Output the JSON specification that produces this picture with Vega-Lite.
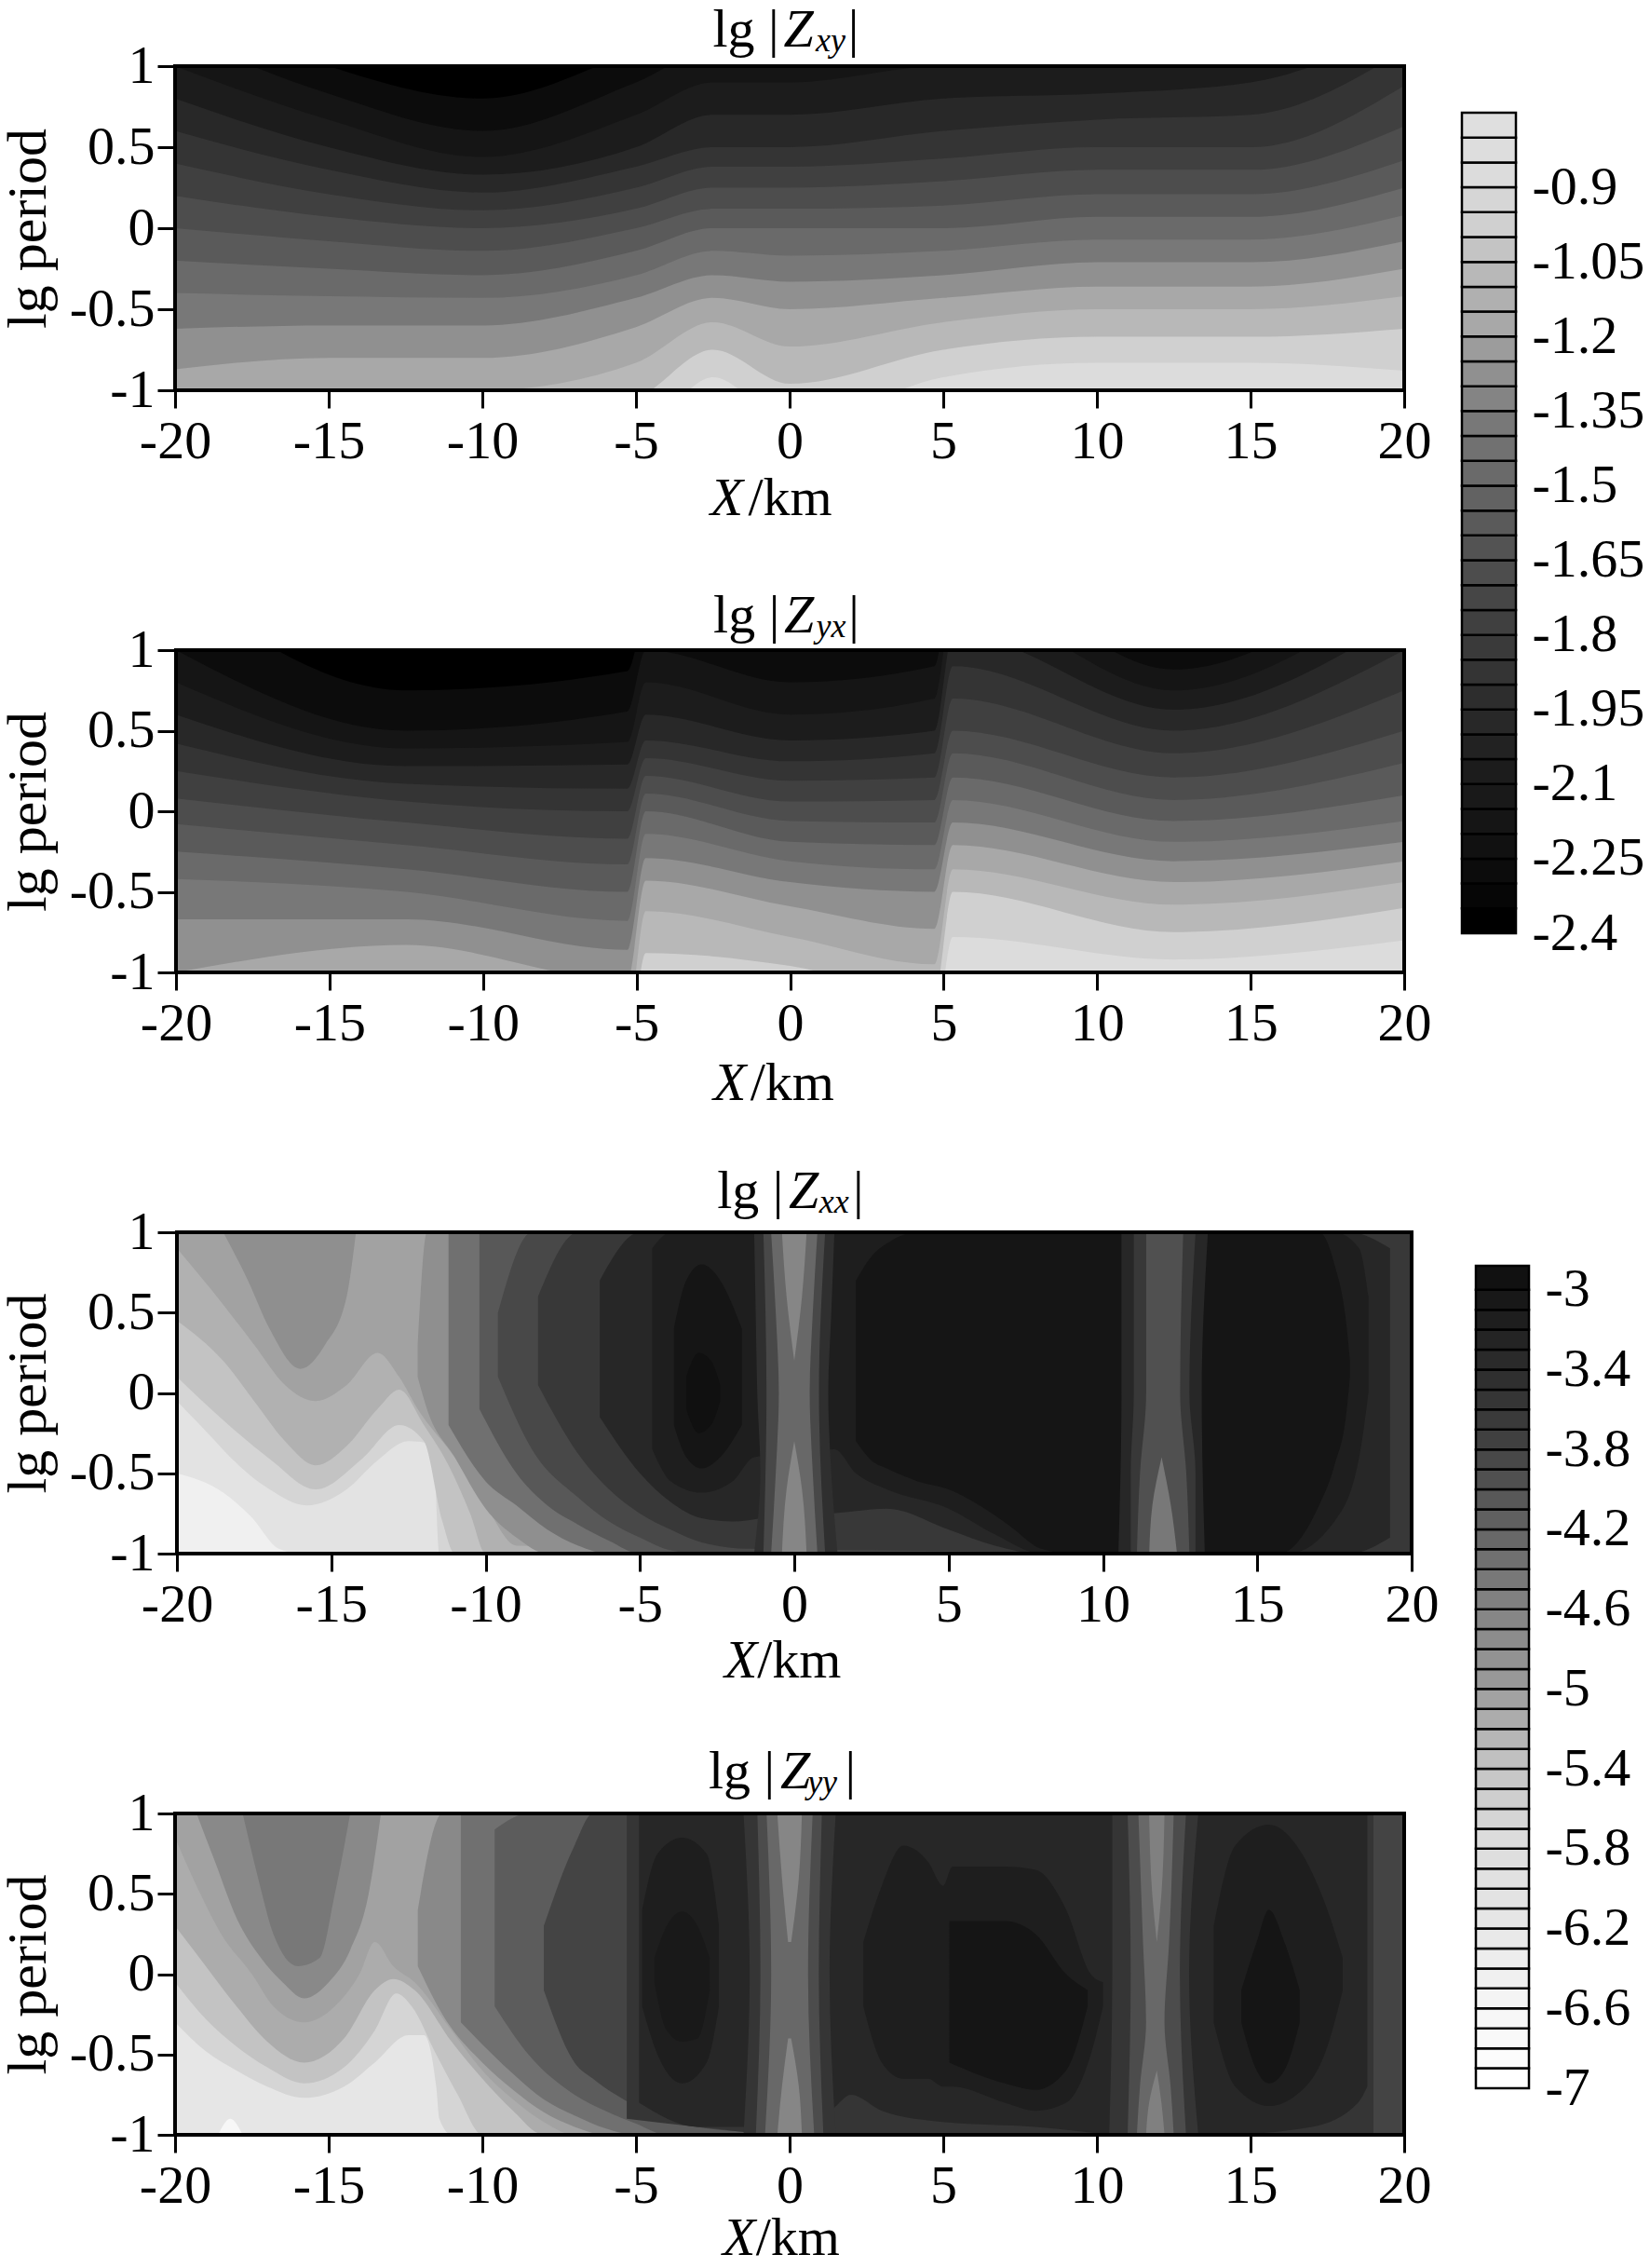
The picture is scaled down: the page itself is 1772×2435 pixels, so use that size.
{"$schema":"https://vega.github.io/schema/vega-lite/v6.json","background":"white","padding":{"left":0,"top":4,"right":0,"bottom":0},"bounds":"flush","columns":2,"spacing":{"row":279,"column":0},"resolve":{"scale":{"color":"independent"}},
"config":{"view":{"stroke":null},"axis":{"grid":false,"domain":false,"labelFont":"Liberation Serif","labelFontSize":58,"labelColor":"#000","tickColor":"#000","tickWidth":3,"tickSize":19,"labelOverlap":false,"labelFlush":false,"labelBound":false,"titleFont":"Liberation Serif","titleFontSize":60,"titleFontWeight":"normal","titleColor":"#000","titleBaseline":"alphabetic"},"axisX":{"labelPadding":7},"axisY":{"labelPadding":3}},
"concat":[
{"width":1330,"height":348,"encoding":{"x":{"field":"x","type":"quantitative","scale":{"domain":[-20,20],"range":[0,1320],"nice":false,"zero":false},"axis":{"title":null,"values":[-20,-15,-10,-5,0,5,10,15,20],"labelExpr":"''+datum.value"}},"y":{"field":"y","type":"quantitative","scale":{"domain":[-1,1],"nice":false,"zero":false},"axis":{"title":"lg period","titleX":-140,"values":[-1,-0.5,0,0.5,1],"labelExpr":"''+datum.value"}}},
"layer":[
{"data":{"values":[{"x":-20,"x2":20,"y":-1,"y2":1}]},"mark":{"type":"rect","fill":"#000"},"encoding":{"x2":{"field":"x2"},"y2":{"field":"y2"}}},
{"data":{"values":[
{"l":-2.3,"x":-20,"y":1.4},{"l":-2.3,"x":-15,"y":1},{"l":-2.3,"x":-10,"y":0.8},{"l":-2.3,"x":-5,"y":1.1},{"l":-2.3,"x":-2.5,"y":1.3},{"l":-2.3,"x":0,"y":1.3},{"l":-2.3,"x":5,"y":1.4},{"l":-2.3,"x":10,"y":1.4},{"l":-2.3,"x":15,"y":1.3},{"l":-2.3,"x":20,"y":1.8},
{"l":-2.2,"x":-20,"y":1.2},{"l":-2.2,"x":-15,"y":0.83},{"l":-2.2,"x":-10,"y":0.6},{"l":-2.2,"x":-5,"y":0.9},{"l":-2.2,"x":-2.5,"y":1.1},{"l":-2.2,"x":0,"y":1.1},{"l":-2.2,"x":5,"y":1.2},{"l":-2.2,"x":10,"y":1.2},{"l":-2.2,"x":15,"y":1.2},{"l":-2.2,"x":20,"y":1.6},
{"l":-2.1,"x":-20,"y":1},{"l":-2.1,"x":-15,"y":0.67},{"l":-2.1,"x":-10,"y":0.44},{"l":-2.1,"x":-5,"y":0.7},{"l":-2.1,"x":-2.5,"y":0.9},{"l":-2.1,"x":0,"y":0.9},{"l":-2.1,"x":5,"y":1},{"l":-2.1,"x":10,"y":1},{"l":-2.1,"x":15,"y":1.1},{"l":-2.1,"x":20,"y":1.4},
{"l":-2,"x":-20,"y":0.8},{"l":-2,"x":-15,"y":0.5},{"l":-2,"x":-10,"y":0.33},{"l":-2,"x":-5,"y":0.5},{"l":-2,"x":-2.5,"y":0.7},{"l":-2,"x":0,"y":0.7},{"l":-2,"x":5,"y":0.8},{"l":-2,"x":10,"y":0.83},{"l":-2,"x":15,"y":0.9},{"l":-2,"x":20,"y":1.25},
{"l":-1.9,"x":-20,"y":0.6},{"l":-1.9,"x":-15,"y":0.36},{"l":-1.9,"x":-10,"y":0.22},{"l":-1.9,"x":-5,"y":0.38},{"l":-1.9,"x":-2.5,"y":0.5},{"l":-1.9,"x":0,"y":0.5},{"l":-1.9,"x":5,"y":0.6},{"l":-1.9,"x":10,"y":0.67},{"l":-1.9,"x":15,"y":0.7},{"l":-1.9,"x":20,"y":1.1},
{"l":-1.8,"x":-20,"y":0.4},{"l":-1.8,"x":-15,"y":0.21},{"l":-1.8,"x":-10,"y":0.11},{"l":-1.8,"x":-5,"y":0.25},{"l":-1.8,"x":-2.5,"y":0.38},{"l":-1.8,"x":0,"y":0.38},{"l":-1.8,"x":5,"y":0.43},{"l":-1.8,"x":10,"y":0.5},{"l":-1.8,"x":15,"y":0.5},{"l":-1.8,"x":20,"y":0.88},
{"l":-1.7,"x":-20,"y":0.2},{"l":-1.7,"x":-15,"y":0.07},{"l":-1.7,"x":-10,"y":0},{"l":-1.7,"x":-5,"y":0.12},{"l":-1.7,"x":-2.5,"y":0.25},{"l":-1.7,"x":0,"y":0.25},{"l":-1.7,"x":5,"y":0.29},{"l":-1.7,"x":10,"y":0.36},{"l":-1.7,"x":15,"y":0.36},{"l":-1.7,"x":20,"y":0.63},
{"l":-1.6,"x":-20,"y":0},{"l":-1.6,"x":-15,"y":-0.08},{"l":-1.6,"x":-10,"y":-0.14},{"l":-1.6,"x":-5,"y":0},{"l":-1.6,"x":-2.5,"y":0.12},{"l":-1.6,"x":0,"y":0.12},{"l":-1.6,"x":5,"y":0.14},{"l":-1.6,"x":10,"y":0.21},{"l":-1.6,"x":15,"y":0.21},{"l":-1.6,"x":20,"y":0.42},
{"l":-1.5,"x":-20,"y":-0.2},{"l":-1.5,"x":-15,"y":-0.25},{"l":-1.5,"x":-10,"y":-0.29},{"l":-1.5,"x":-5,"y":-0.14},{"l":-1.5,"x":-2.5,"y":0},{"l":-1.5,"x":0,"y":0},{"l":-1.5,"x":5,"y":0},{"l":-1.5,"x":10,"y":0.07},{"l":-1.5,"x":15,"y":0.07},{"l":-1.5,"x":20,"y":0.25},
{"l":-1.4,"x":-20,"y":-0.4},{"l":-1.4,"x":-15,"y":-0.42},{"l":-1.4,"x":-10,"y":-0.43},{"l":-1.4,"x":-5,"y":-0.29},{"l":-1.4,"x":-2.5,"y":-0.14},{"l":-1.4,"x":0,"y":-0.17},{"l":-1.4,"x":5,"y":-0.14},{"l":-1.4,"x":10,"y":-0.07},{"l":-1.4,"x":15,"y":-0.07},{"l":-1.4,"x":20,"y":0.08},
{"l":-1.3,"x":-20,"y":-0.62},{"l":-1.3,"x":-15,"y":-0.6},{"l":-1.3,"x":-10,"y":-0.6},{"l":-1.3,"x":-5,"y":-0.43},{"l":-1.3,"x":-2.5,"y":-0.29},{"l":-1.3,"x":0,"y":-0.33},{"l":-1.3,"x":5,"y":-0.29},{"l":-1.3,"x":10,"y":-0.21},{"l":-1.3,"x":15,"y":-0.21},{"l":-1.3,"x":20,"y":-0.08},
{"l":-1.2,"x":-20,"y":-0.87},{"l":-1.2,"x":-15,"y":-0.8},{"l":-1.2,"x":-10,"y":-0.8},{"l":-1.2,"x":-5,"y":-0.61},{"l":-1.2,"x":-2.5,"y":-0.43},{"l":-1.2,"x":0,"y":-0.5},{"l":-1.2,"x":5,"y":-0.43},{"l":-1.2,"x":10,"y":-0.36},{"l":-1.2,"x":15,"y":-0.36},{"l":-1.2,"x":20,"y":-0.25},
{"l":-1.1,"x":-20,"y":-1.1},{"l":-1.1,"x":-15,"y":-1},{"l":-1.1,"x":-10,"y":-1},{"l":-1.1,"x":-5,"y":-0.83},{"l":-1.1,"x":-2.5,"y":-0.58},{"l":-1.1,"x":0,"y":-0.73},{"l":-1.1,"x":5,"y":-0.58},{"l":-1.1,"x":10,"y":-0.5},{"l":-1.1,"x":15,"y":-0.5},{"l":-1.1,"x":20,"y":-0.42},
{"l":-1,"x":-20,"y":-1.3},{"l":-1,"x":-15,"y":-1.2},{"l":-1,"x":-10,"y":-1.2},{"l":-1,"x":-5,"y":-1.05},{"l":-1,"x":-2.5,"y":-0.75},{"l":-1,"x":0,"y":-0.96},{"l":-1,"x":5,"y":-0.75},{"l":-1,"x":10,"y":-0.67},{"l":-1,"x":15,"y":-0.67},{"l":-1,"x":20,"y":-0.62},
{"l":-0.9,"x":-20,"y":-1.5},{"l":-0.9,"x":-15,"y":-1.4},{"l":-0.9,"x":-10,"y":-1.4},{"l":-0.9,"x":-5,"y":-1.3},{"l":-0.9,"x":-2.5,"y":-0.92},{"l":-0.9,"x":0,"y":-1.2},{"l":-0.9,"x":5,"y":-0.92},{"l":-0.9,"x":10,"y":-0.83},{"l":-0.9,"x":15,"y":-0.83},{"l":-0.9,"x":20,"y":-0.88}
]},"mark":{"type":"area","clip":true,"interpolate":"monotone"},"encoding":{"y2":{"datum":-1},"detail":{"field":"l"},"color":{"field":"l","type":"quantitative","legend":null,"scale":{"domain":[-2.4,-2.1,-1.8,-1.6,-1.5,-1.4,-1.3,-1.2,-1.1,-1,-0.9,-0.75],"range":["#000000","#1c1c1c","#404040","#5a5a5a","#6a6a6a","#787878","#909090","#a8a8a8","#b8b8b8","#d0d0d0","#dcdcdc","#e0e0e0"]}}}},
{"data":{"values":[{"x":-20,"x2":20,"y":-1,"y2":1}]},"mark":{"type":"rect","filled":false,"stroke":"#000","strokeWidth":4},"encoding":{"x2":{"field":"x2"},"y2":{"field":"y2"}}},
{"data":{"values":[{"s":"lg |","x":-2.5,"y":1.12},{"s":"|","x":1.9,"y":1.12},{"s":"/km","x":-1.35,"y":-1.77}]},"mark":{"type":"text","align":"left","baseline":"alphabetic","font":"Liberation Serif","fontSize":58,"color":"#000"},"encoding":{"text":{"field":"s"}}},
{"data":{"values":[{"s":"Z","x":-0.2,"y":1.12},{"s":"X","x":-2.58,"y":-1.77}]},"mark":{"type":"text","align":"left","baseline":"alphabetic","font":"Liberation Serif","fontStyle":"italic","fontSize":58,"color":"#000"},"encoding":{"text":{"field":"s"}}},
{"data":{"values":[{"s":"xy","x":0.85,"y":1.09}]},"mark":{"type":"text","align":"left","baseline":"alphabetic","font":"Liberation Serif","fontStyle":"italic","fontSize":36,"color":"#000"},"encoding":{"text":{"field":"s"}}}
]},
{"width":110,"height":348,"data":{"values":[{"v":-2.4,"w":-2.35},{"v":-2.35,"w":-2.3},{"v":-2.3,"w":-2.25},{"v":-2.25,"w":-2.2},{"v":-2.2,"w":-2.15},{"v":-2.15,"w":-2.1},{"v":-2.1,"w":-2.05},{"v":-2.05,"w":-2},{"v":-2,"w":-1.95},{"v":-1.95,"w":-1.9},{"v":-1.9,"w":-1.85},{"v":-1.85,"w":-1.8},{"v":-1.8,"w":-1.75},{"v":-1.75,"w":-1.7},{"v":-1.7,"w":-1.65},{"v":-1.65,"w":-1.6},{"v":-1.6,"w":-1.55},{"v":-1.55,"w":-1.5},{"v":-1.5,"w":-1.45},{"v":-1.45,"w":-1.4},{"v":-1.4,"w":-1.35},{"v":-1.35,"w":-1.3},{"v":-1.3,"w":-1.25},{"v":-1.25,"w":-1.2},{"v":-1.2,"w":-1.15},{"v":-1.15,"w":-1.1},{"v":-1.1,"w":-1.05},{"v":-1.05,"w":-1},{"v":-1,"w":-0.95},{"v":-0.95,"w":-0.9},{"v":-0.9,"w":-0.85},{"v":-0.85,"w":-0.8},{"v":-0.8,"w":-0.75}]},"mark":{"type":"rect","stroke":"#000","strokeWidth":2.5},"encoding":{"x":{"datum":0,"type":"quantitative","scale":{"domain":[0,1],"range":[52,110]},"axis":null},"x2":{"datum":1},"y":{"field":"v","type":"quantitative","scale":{"domain":[-2.4,-0.75],"range":[931,50],"nice":false,"zero":false},"axis":{"orient":"right","title":null,"ticks":false,"labelPadding":17,"values":[-0.9,-1.05,-1.2,-1.35,-1.5,-1.65,-1.8,-1.95,-2.1,-2.25,-2.4],"labelExpr":"''+datum.value"}},"y2":{"field":"w"},"color":{"field":"v","type":"quantitative","legend":null,"scale":{"domain":[-2.4,-2.1,-1.8,-1.6,-1.5,-1.4,-1.3,-1.2,-1.1,-1,-0.9,-0.75],"range":["#000000","#1c1c1c","#404040","#5a5a5a","#6a6a6a","#787878","#909090","#a8a8a8","#b8b8b8","#d0d0d0","#dcdcdc","#e0e0e0"]}}}},
{"width":1330,"height":346,"encoding":{"x":{"field":"x","type":"quantitative","scale":{"domain":[-20,20],"range":[1,1320],"nice":false,"zero":false},"axis":{"title":null,"values":[-20,-15,-10,-5,0,5,10,15,20],"labelExpr":"''+datum.value"}},"y":{"field":"y","type":"quantitative","scale":{"domain":[-1,1],"nice":false,"zero":false},"axis":{"title":"lg period","titleX":-140,"values":[-1,-0.5,0,0.5,1],"labelExpr":"''+datum.value"}}},
"layer":[
{"data":{"values":[{"x":-20,"x2":20,"y":-1,"y2":1}]},"mark":{"type":"rect","fill":"#000"},"encoding":{"x2":{"field":"x2"},"y2":{"field":"y2"}}},
{"data":{"values":[
{"l":-2.3,"x":-20,"y":1.4},{"l":-2.3,"x":-12.5,"y":0.75},{"l":-2.3,"x":-5.3,"y":0.87},{"l":-2.3,"x":-4.7,"y":1.2},{"l":-2.3,"x":0,"y":1},{"l":-2.3,"x":4.7,"y":1.1},{"l":-2.3,"x":5.3,"y":1.7},{"l":-2.3,"x":12.5,"y":1},{"l":-2.3,"x":20,"y":1.8},
{"l":-2.2,"x":-20,"y":1},{"l":-2.2,"x":-12.5,"y":0.5},{"l":-2.2,"x":-5.3,"y":0.62},{"l":-2.2,"x":-4.7,"y":1},{"l":-2.2,"x":0,"y":0.8},{"l":-2.2,"x":4.7,"y":0.9},{"l":-2.2,"x":5.3,"y":1.5},{"l":-2.2,"x":12.5,"y":0.88},{"l":-2.2,"x":20,"y":1.6},
{"l":-2.1,"x":-20,"y":0.8},{"l":-2.1,"x":-12.5,"y":0.39},{"l":-2.1,"x":-5.3,"y":0.43},{"l":-2.1,"x":-4.7,"y":0.8},{"l":-2.1,"x":0,"y":0.6},{"l":-2.1,"x":4.7,"y":0.7},{"l":-2.1,"x":5.3,"y":1.3},{"l":-2.1,"x":12.5,"y":0.75},{"l":-2.1,"x":20,"y":1.4},
{"l":-2,"x":-20,"y":0.6},{"l":-2,"x":-12.5,"y":0.28},{"l":-2,"x":-5.3,"y":0.29},{"l":-2,"x":-4.7,"y":0.6},{"l":-2,"x":0,"y":0.44},{"l":-2,"x":4.7,"y":0.5},{"l":-2,"x":5.3,"y":1.1},{"l":-2,"x":12.5,"y":0.63},{"l":-2,"x":20,"y":1.2},
{"l":-1.9,"x":-20,"y":0.42},{"l":-1.9,"x":-12.5,"y":0.17},{"l":-1.9,"x":-5.3,"y":0.14},{"l":-1.9,"x":-4.7,"y":0.44},{"l":-1.9,"x":0,"y":0.31},{"l":-1.9,"x":4.7,"y":0.36},{"l":-1.9,"x":5.3,"y":0.9},{"l":-1.9,"x":12.5,"y":0.5},{"l":-1.9,"x":20,"y":1},
{"l":-1.8,"x":-20,"y":0.25},{"l":-1.8,"x":-12.5,"y":0.06},{"l":-1.8,"x":-5.3,"y":0},{"l":-1.8,"x":-4.7,"y":0.33},{"l":-1.8,"x":0,"y":0.19},{"l":-1.8,"x":4.7,"y":0.21},{"l":-1.8,"x":5.3,"y":0.7},{"l":-1.8,"x":12.5,"y":0.36},{"l":-1.8,"x":20,"y":0.75},
{"l":-1.7,"x":-20,"y":0.08},{"l":-1.7,"x":-12.5,"y":-0.07},{"l":-1.7,"x":-5.3,"y":-0.17},{"l":-1.7,"x":-4.7,"y":0.22},{"l":-1.7,"x":0,"y":0.06},{"l":-1.7,"x":4.7,"y":0.07},{"l":-1.7,"x":5.3,"y":0.5},{"l":-1.7,"x":12.5,"y":0.21},{"l":-1.7,"x":20,"y":0.5},
{"l":-1.6,"x":-20,"y":-0.08},{"l":-1.6,"x":-12.5,"y":-0.21},{"l":-1.6,"x":-5.3,"y":-0.33},{"l":-1.6,"x":-4.7,"y":0.11},{"l":-1.6,"x":0,"y":-0.06},{"l":-1.6,"x":4.7,"y":-0.07},{"l":-1.6,"x":5.3,"y":0.36},{"l":-1.6,"x":12.5,"y":0.07},{"l":-1.6,"x":20,"y":0.3},
{"l":-1.5,"x":-20,"y":-0.25},{"l":-1.5,"x":-12.5,"y":-0.36},{"l":-1.5,"x":-5.3,"y":-0.5},{"l":-1.5,"x":-4.7,"y":0},{"l":-1.5,"x":0,"y":-0.19},{"l":-1.5,"x":4.7,"y":-0.21},{"l":-1.5,"x":5.3,"y":0.21},{"l":-1.5,"x":12.5,"y":-0.06},{"l":-1.5,"x":20,"y":0.1},
{"l":-1.4,"x":-20,"y":-0.42},{"l":-1.4,"x":-12.5,"y":-0.5},{"l":-1.4,"x":-5.3,"y":-0.68},{"l":-1.4,"x":-4.7,"y":-0.14},{"l":-1.4,"x":0,"y":-0.31},{"l":-1.4,"x":4.7,"y":-0.36},{"l":-1.4,"x":5.3,"y":0.07},{"l":-1.4,"x":12.5,"y":-0.19},{"l":-1.4,"x":20,"y":-0.06},
{"l":-1.3,"x":-20,"y":-0.67},{"l":-1.3,"x":-12.5,"y":-0.67},{"l":-1.3,"x":-5.3,"y":-0.86},{"l":-1.3,"x":-4.7,"y":-0.29},{"l":-1.3,"x":0,"y":-0.44},{"l":-1.3,"x":4.7,"y":-0.5},{"l":-1.3,"x":5.3,"y":-0.07},{"l":-1.3,"x":12.5,"y":-0.31},{"l":-1.3,"x":20,"y":-0.19},
{"l":-1.2,"x":-20,"y":-1},{"l":-1.2,"x":-12.5,"y":-0.83},{"l":-1.2,"x":-5.3,"y":-1.05},{"l":-1.2,"x":-4.7,"y":-0.43},{"l":-1.2,"x":0,"y":-0.59},{"l":-1.2,"x":4.7,"y":-0.73},{"l":-1.2,"x":5.3,"y":-0.21},{"l":-1.2,"x":12.5,"y":-0.44},{"l":-1.2,"x":20,"y":-0.31},
{"l":-1.1,"x":-20,"y":-1.2},{"l":-1.1,"x":-12.5,"y":-1},{"l":-1.1,"x":-5.3,"y":-1.3},{"l":-1.1,"x":-4.7,"y":-0.62},{"l":-1.1,"x":0,"y":-0.78},{"l":-1.1,"x":4.7,"y":-0.95},{"l":-1.1,"x":5.3,"y":-0.36},{"l":-1.1,"x":12.5,"y":-0.58},{"l":-1.1,"x":20,"y":-0.44},
{"l":-1,"x":-20,"y":-1.4},{"l":-1,"x":-12.5,"y":-1.2},{"l":-1,"x":-5.3,"y":-1.5},{"l":-1,"x":-4.7,"y":-0.88},{"l":-1,"x":0,"y":-0.96},{"l":-1,"x":4.7,"y":-1.15},{"l":-1,"x":5.3,"y":-0.5},{"l":-1,"x":12.5,"y":-0.75},{"l":-1,"x":20,"y":-0.6},
{"l":-0.9,"x":-20,"y":-1.6},{"l":-0.9,"x":-12.5,"y":-1.4},{"l":-0.9,"x":-5.3,"y":-1.7},{"l":-0.9,"x":-4.7,"y":-1.12},{"l":-0.9,"x":0,"y":-1.2},{"l":-0.9,"x":4.7,"y":-1.35},{"l":-0.9,"x":5.3,"y":-0.78},{"l":-0.9,"x":12.5,"y":-0.92},{"l":-0.9,"x":20,"y":-0.8}
]},"mark":{"type":"area","clip":true,"interpolate":"monotone"},"encoding":{"y2":{"datum":-1},"detail":{"field":"l"},"color":{"field":"l","type":"quantitative","legend":null,"scale":{"domain":[-2.4,-2.1,-1.8,-1.6,-1.5,-1.4,-1.3,-1.2,-1.1,-1,-0.9,-0.75],"range":["#000000","#1c1c1c","#404040","#5a5a5a","#6a6a6a","#787878","#909090","#a8a8a8","#b8b8b8","#d0d0d0","#dcdcdc","#e0e0e0"]}}}},
{"data":{"values":[{"x":-20,"x2":20,"y":-1,"y2":1}]},"mark":{"type":"rect","filled":false,"stroke":"#000","strokeWidth":4},"encoding":{"x2":{"field":"x2"},"y2":{"field":"y2"}}},
{"data":{"values":[{"s":"lg |","x":-2.5,"y":1.11},{"s":"|","x":1.9,"y":1.11},{"s":"/km","x":-1.3,"y":-1.79}]},"mark":{"type":"text","align":"left","baseline":"alphabetic","font":"Liberation Serif","fontSize":58,"color":"#000"},"encoding":{"text":{"field":"s"}}},
{"data":{"values":[{"s":"Z","x":-0.2,"y":1.11},{"s":"X","x":-2.5,"y":-1.79}]},"mark":{"type":"text","align":"left","baseline":"alphabetic","font":"Liberation Serif","fontStyle":"italic","fontSize":58,"color":"#000"},"encoding":{"text":{"field":"s"}}},
{"data":{"values":[{"s":"yx","x":0.85,"y":1.08}]},"mark":{"type":"text","align":"left","baseline":"alphabetic","font":"Liberation Serif","fontStyle":"italic","fontSize":36,"color":"#000"},"encoding":{"text":{"field":"s"}}}
]},
{"width":10,"height":346,"data":{"values":[]},"mark":{"type":"rect"},"encoding":{}},
{"width":1330,"height":345,"encoding":{"x":{"field":"x","type":"quantitative","scale":{"domain":[-20,20],"range":[2,1328],"nice":false,"zero":false},"axis":{"title":null,"values":[-20,-15,-10,-5,0,5,10,15,20],"labelExpr":"''+datum.value"}},"y":{"field":"y","type":"quantitative","scale":{"domain":[-1,1],"nice":false,"zero":false},"axis":{"title":"lg period","titleX":-140,"values":[-1,-0.5,0,0.5,1],"labelExpr":"''+datum.value"}}},
"layer":[
{"data":{"values":[{"x":-20,"x2":20,"y":-1,"y2":1,"v":-6.5}]},"mark":{"type":"rect"},"encoding":{"x2":{"field":"x2"},"y2":{"field":"y2"},"color":{"field":"v","type":"quantitative","legend":null,"scale":{"domain":[-7,-6.6,-6.2,-5.8,-5.4,-5,-4.6,-4.2,-3.8,-3.4,-3,-2.88],"range":["#ffffff","#f4f4f4","#e6e6e6","#dcdcdc","#c0c0c0","#989898","#808080","#606060","#404040","#2a2a2a","#111111","#0c0c0c"]}}}},
{"data":{"values":[
{"g":"B","v":-6.1,"x":-20,"y":-0.5,"t":1},{"g":"B","v":-6.1,"x":-18.5,"y":-0.62,"t":1},{"g":"B","v":-6.1,"x":-17.6,"y":-0.77,"t":1},{"g":"B","v":-6.1,"x":-16.7,"y":-0.97,"t":1},{"g":"B","v":-6.1,"x":-16,"y":-1,"t":1},{"g":"B","v":-6.1,"x":20,"y":-1,"t":1},
{"g":"C","v":-5.7,"x":-20,"y":-0.05,"t":1},{"g":"C","v":-5.7,"x":-19,"y":-0.25,"t":1},{"g":"C","v":-5.7,"x":-18,"y":-0.45,"t":1},{"g":"C","v":-5.7,"x":-17,"y":-0.6,"t":1},{"g":"C","v":-5.7,"x":-15.8,"y":-0.7,"t":1},{"g":"C","v":-5.7,"x":-14.5,"y":-0.6,"t":1},{"g":"C","v":-5.7,"x":-13.5,"y":-0.42,"t":1},{"g":"C","v":-5.7,"x":-12.5,"y":-0.3,"t":1},{"g":"C","v":-5.7,"x":-11.7,"y":-0.32,"t":1},{"g":"C","v":-5.7,"x":-11.5,"y":-1,"t":1},{"g":"C","v":-5.7,"x":20,"y":-1,"t":1},
{"g":"D","v":-5.45,"x":-20,"y":0.1,"t":1},{"g":"D","v":-5.45,"x":-18.5,"y":-0.17,"t":1},{"g":"D","v":-5.45,"x":-17,"y":-0.41,"t":1},{"g":"D","v":-5.45,"x":-15.5,"y":-0.6,"t":1},{"g":"D","v":-5.45,"x":-14,"y":-0.41,"t":1},{"g":"D","v":-5.45,"x":-12.8,"y":-0.2,"t":1},{"g":"D","v":-5.45,"x":-12,"y":-0.3,"t":1},{"g":"D","v":-5.45,"x":-11.4,"y":-0.8,"t":1},{"g":"D","v":-5.45,"x":-11,"y":-1,"t":1},{"g":"D","v":-5.45,"x":20,"y":-1,"t":1},
{"g":"E","v":-5.25,"x":-20,"y":0.45,"t":1},{"g":"E","v":-5.25,"x":-18.5,"y":0.2,"t":1},{"g":"E","v":-5.25,"x":-17.5,"y":-0.05,"t":1},{"g":"E","v":-5.25,"x":-16.5,"y":-0.3,"t":1},{"g":"E","v":-5.25,"x":-15.5,"y":-0.45,"t":1},{"g":"E","v":-5.25,"x":-14.5,"y":-0.33,"t":1},{"g":"E","v":-5.25,"x":-13.5,"y":-0.1,"t":1},{"g":"E","v":-5.25,"x":-12.8,"y":0.02,"t":1},{"g":"E","v":-5.25,"x":-12,"y":-0.2,"t":1},{"g":"E","v":-5.25,"x":-11.2,"y":-0.45,"t":1},{"g":"E","v":-5.25,"x":-10.5,"y":-0.75,"t":1},{"g":"E","v":-5.25,"x":-10,"y":-1,"t":1},{"g":"E","v":-5.25,"x":20,"y":-1,"t":1},
{"g":"F","v":-5.1,"x":-20,"y":0.9,"t":1},{"g":"F","v":-5.1,"x":-18.5,"y":0.55,"t":1},{"g":"F","v":-5.1,"x":-17.5,"y":0.3,"t":1},{"g":"F","v":-5.1,"x":-16.5,"y":0.05,"t":1},{"g":"F","v":-5.1,"x":-15.5,"y":-0.05,"t":1},{"g":"F","v":-5.1,"x":-14.5,"y":0.05,"t":1},{"g":"F","v":-5.1,"x":-13.5,"y":0.25,"t":1},{"g":"F","v":-5.1,"x":-12.8,"y":0.1,"t":1},{"g":"F","v":-5.1,"x":-12.2,"y":-0.1,"t":1},{"g":"F","v":-5.1,"x":-11,"y":-0.4,"t":1},{"g":"F","v":-5.1,"x":-10,"y":-0.7,"t":1},{"g":"F","v":-5.1,"x":-9,"y":-0.95,"t":1},{"g":"F","v":-5.1,"x":20,"y":-1,"t":1},
{"g":"G","v":-4.85,"x":-18.5,"y":1,"t":1},{"g":"G","v":-4.85,"x":-17.7,"y":0.7,"t":1},{"g":"G","v":-4.85,"x":-17,"y":0.4,"t":1},{"g":"G","v":-4.85,"x":-16,"y":0.15,"t":1},{"g":"G","v":-4.85,"x":-15.2,"y":0.3,"t":1},{"g":"G","v":-4.85,"x":-14.5,"y":0.6,"t":1},{"g":"G","v":-4.85,"x":-14.2,"y":1,"t":1},
{"g":"G2","v":-4.85,"x":-12.2,"y":0.1,"t":0.3},{"g":"G2","v":-4.85,"x":-11.9,"y":-0.1,"t":1},{"g":"G2","v":-4.85,"x":-11,"y":-0.4,"t":1},{"g":"G2","v":-4.85,"x":-10,"y":-0.72,"t":1},{"g":"G2","v":-4.85,"x":-9,"y":-0.9,"t":1},{"g":"G2","v":-4.85,"x":-8,"y":-1,"t":1},{"g":"G2","v":-4.85,"x":20,"y":-1,"t":1},
{"g":"H","v":-4.4,"x":-11.2,"y":-0.2,"t":1},{"g":"H","v":-4.4,"x":-10,"y":-0.55,"t":1},{"g":"H","v":-4.4,"x":-9,"y":-0.7,"t":1},{"g":"H","v":-4.4,"x":-8,"y":-0.85,"t":1},{"g":"H","v":-4.4,"x":-7,"y":-0.95,"t":1},{"g":"H","v":-4.4,"x":-6,"y":-1,"t":1},{"g":"H","v":-4.4,"x":20,"y":-1,"t":1},
{"g":"I","v":-4.1,"x":-10.2,"y":-0.1,"t":1},{"g":"I","v":-4.1,"x":-9,"y":-0.5,"t":1},{"g":"I","v":-4.1,"x":-8,"y":-0.7,"t":1},{"g":"I","v":-4.1,"x":-7,"y":-0.82,"t":1},{"g":"I","v":-4.1,"x":-6,"y":-0.92,"t":1},{"g":"I","v":-4.1,"x":-5,"y":-1,"t":1},{"g":"I","v":-4.1,"x":20,"y":-1,"t":1},
{"g":"J","v":-3.9,"x":-9.6,"y":0.1,"t":0.5},{"g":"J","v":-3.9,"x":-8.5,"y":-0.35,"t":1},{"g":"J","v":-3.9,"x":-7,"y":-0.65,"t":1},{"g":"J","v":-3.9,"x":-6,"y":-0.8,"t":1},{"g":"J","v":-3.9,"x":-5,"y":-0.9,"t":1},{"g":"J","v":-3.9,"x":-4,"y":-0.98,"t":1},{"g":"J","v":-3.9,"x":-3,"y":-1,"t":1},{"g":"J","v":-3.9,"x":20,"y":-1,"t":1},
{"g":"K","v":-3.65,"x":-8.3,"y":0.05,"t":0.6},{"g":"K","v":-3.65,"x":-7,"y":-0.38,"t":1},{"g":"K","v":-3.65,"x":-6,"y":-0.6,"t":1},{"g":"K","v":-3.65,"x":-5,"y":-0.75,"t":1},{"g":"K","v":-3.65,"x":-4,"y":-0.85,"t":1},{"g":"K","v":-3.65,"x":-3,"y":-0.93,"t":1},{"g":"K","v":-3.65,"x":-1.5,"y":-0.97,"t":1},{"g":"K","v":-3.65,"x":20,"y":-1,"t":1},
{"g":"L","v":-3.35,"x":-6.3,"y":-0.15,"t":0.7},{"g":"L","v":-3.35,"x":-5,"y":-0.5,"t":1},{"g":"L","v":-3.35,"x":-4,"y":-0.68,"t":1},{"g":"L","v":-3.35,"x":-3,"y":-0.78,"t":1},{"g":"L","v":-3.35,"x":-2,"y":-0.8,"t":1},{"g":"L","v":-3.35,"x":0,"y":-0.75,"t":1},{"g":"L","v":-3.35,"x":1,"y":-0.75,"t":1},{"g":"L","v":-3.35,"x":3,"y":-0.72,"t":1},{"g":"L","v":-3.35,"x":5,"y":-0.85,"t":1},{"g":"L","v":-3.35,"x":6.5,"y":-0.95,"t":1},{"g":"L","v":-3.35,"x":8,"y":-1,"t":1},{"g":"L","v":-3.35,"x":18,"y":-1,"t":1},{"g":"L","v":-3.35,"x":19.3,"y":-0.9,"t":0.9},
{"g":"M","v":-3.2,"x":-4.6,"y":-0.35,"t":0.9},{"g":"M","v":-3.2,"x":-4,"y":-0.55,"t":1},{"g":"M","v":-3.2,"x":-3,"y":-0.62,"t":1},{"g":"M","v":-3.2,"x":-2,"y":-0.55,"t":1},{"g":"M","v":-3.2,"x":-1.3,"y":-0.4,"t":1},{"g":"M","v":-3.2,"x":1.3,"y":-0.35,"t":1},{"g":"M","v":-3.2,"x":2,"y":-0.5,"t":1},{"g":"M","v":-3.2,"x":3,"y":-0.6,"t":1},{"g":"M","v":-3.2,"x":5,"y":-0.72,"t":1},{"g":"M","v":-3.2,"x":6.5,"y":-0.88,"t":1},{"g":"M","v":-3.2,"x":8,"y":-1,"t":1},{"g":"M","v":-3.2,"x":16,"y":-1,"t":1},{"g":"M","v":-3.2,"x":17.5,"y":-0.8,"t":1},{"g":"M","v":-3.2,"x":18.3,"y":-0.4,"t":0.9},{"g":"M","v":-3.2,"x":18.6,"y":0,"t":0.6},
{"g":"N","v":-3.05,"x":2,"y":-0.3,"t":0.7},{"g":"N","v":-3.05,"x":2.5,"y":-0.42,"t":0.85},{"g":"N","v":-3.05,"x":3,"y":-0.47,"t":0.93},{"g":"N","v":-3.05,"x":4,"y":-0.55,"t":1},{"g":"N","v":-3.05,"x":5,"y":-0.6,"t":1},{"g":"N","v":-3.05,"x":6,"y":-0.7,"t":1},{"g":"N","v":-3.05,"x":7,"y":-0.83,"t":1},{"g":"N","v":-3.05,"x":8,"y":-0.97,"t":1},{"g":"N","v":-3.05,"x":9,"y":-1,"t":1},{"g":"N","v":-3.05,"x":15.7,"y":-1,"t":1},{"g":"N","v":-3.05,"x":17,"y":-0.7,"t":1},{"g":"N","v":-3.05,"x":17.5,"y":-0.45,"t":0.8},{"g":"N","v":-3.05,"x":17.9,"y":-0.1,"t":0.4},{"g":"N","v":-3.05,"x":18,"y":0.1,"t":0.2},
{"g":"N2","v":-3.05,"x":-3.9,"y":-0.2,"t":0.4},{"g":"N2","v":-3.05,"x":-3.5,"y":-0.4,"t":0.7},{"g":"N2","v":-3.05,"x":-3,"y":-0.47,"t":0.8},{"g":"N2","v":-3.05,"x":-2.4,"y":-0.4,"t":0.7},{"g":"N2","v":-3.05,"x":-1.7,"y":-0.2,"t":0.4},
{"g":"O","v":-2.98,"x":-3.5,"y":-0.1,"t":0.1},{"g":"O","v":-2.98,"x":-3.1,"y":-0.25,"t":0.25},{"g":"O","v":-2.98,"x":-2.7,"y":-0.2,"t":0.2},{"g":"O","v":-2.98,"x":-2.4,"y":-0.05,"t":0.05}
]},"mark":{"type":"area","clip":true,"interpolate":"monotone"},"encoding":{"y2":{"field":"t"},"detail":{"field":"g"},"color":{"field":"v","type":"quantitative","legend":null,"scale":{"domain":[-7,-6.6,-6.2,-5.8,-5.4,-5,-4.6,-4.2,-3.8,-3.4,-3,-2.88],"range":["#ffffff","#f4f4f4","#e6e6e6","#dcdcdc","#c0c0c0","#989898","#808080","#606060","#404040","#2a2a2a","#111111","#0c0c0c"]}}}},
{"data":{"values":[
{"g":"a1","v":-3.5,"y":-1,"a":-1.3,"b":1.4},{"g":"a1","v":-3.5,"y":-0.5,"a":-1.1,"b":1.2},{"g":"a1","v":-3.5,"y":0,"a":-1.2,"b":1.1},{"g":"a1","v":-3.5,"y":0.5,"a":-1.25,"b":1.2},{"g":"a1","v":-3.5,"y":1,"a":-1.3,"b":1.3},
{"g":"a2","v":-3.9,"y":-1,"a":-1,"b":1},{"g":"a2","v":-3.9,"y":0,"a":-0.9,"b":0.8},{"g":"a2","v":-3.9,"y":1,"a":-1,"b":1},
{"g":"a3","v":-4.3,"y":-1,"a":-0.75,"b":0.75},{"g":"a3","v":-4.3,"y":-0.5,"a":-0.6,"b":0.6},{"g":"a3","v":-4.3,"y":0,"a":-0.5,"b":0.5},{"g":"a3","v":-4.3,"y":0.5,"a":-0.6,"b":0.6},{"g":"a3","v":-4.3,"y":1,"a":-0.75,"b":0.75},
{"g":"a4","v":-4.7,"y":0.2,"a":0,"b":0},{"g":"a4","v":-4.7,"y":0.6,"a":-0.25,"b":0.25},{"g":"a4","v":-4.7,"y":1,"a":-0.4,"b":0.4},
{"g":"a5","v":-4.7,"y":-1,"a":-0.4,"b":0.4},{"g":"a5","v":-4.7,"y":-0.6,"a":-0.25,"b":0.25},{"g":"a5","v":-4.7,"y":-0.3,"a":0,"b":0},
{"g":"c1","v":-3.35,"y":-1,"a":10.5,"b":13.3},{"g":"c1","v":-3.35,"y":0,"a":10.6,"b":13.2},{"g":"c1","v":-3.35,"y":1,"a":10.6,"b":13.4},
{"g":"c2","v":-3.65,"y":-1,"a":10.9,"b":13},{"g":"c2","v":-3.65,"y":-0.5,"a":10.9,"b":13},{"g":"c2","v":-3.65,"y":0,"a":11,"b":12.8},{"g":"c2","v":-3.65,"y":1,"a":11,"b":13},
{"g":"c3","v":-4,"y":-1,"a":11.1,"b":12.8},{"g":"c3","v":-4,"y":-0.5,"a":11.2,"b":12.7},{"g":"c3","v":-4,"y":0,"a":11.4,"b":12.5},{"g":"c3","v":-4,"y":1,"a":11.4,"b":12.6},
{"g":"c4","v":-4.5,"y":-1,"a":11.5,"b":12.4},{"g":"c4","v":-4.5,"y":-0.7,"a":11.6,"b":12.2},{"g":"c4","v":-4.5,"y":-0.4,"a":11.9,"b":11.9}
]},"mark":{"type":"area","orient":"horizontal","clip":true,"interpolate":"monotone"},"encoding":{"x":{"field":"a","type":"quantitative","axis":{"title":null,"values":[-20,-15,-10,-5,0,5,10,15,20],"labelExpr":"''+datum.value"}},"x2":{"field":"b"},"detail":{"field":"g"},"color":{"field":"v","type":"quantitative","legend":null,"scale":{"domain":[-7,-6.6,-6.2,-5.8,-5.4,-5,-4.6,-4.2,-3.8,-3.4,-3,-2.88],"range":["#ffffff","#f4f4f4","#e6e6e6","#dcdcdc","#c0c0c0","#989898","#808080","#606060","#404040","#2a2a2a","#111111","#0c0c0c"]}}}},
{"data":{"values":[{"x":-20,"x2":20,"y":-1,"y2":1}]},"mark":{"type":"rect","filled":false,"stroke":"#000","strokeWidth":4},"encoding":{"x2":{"field":"x2"},"y2":{"field":"y2"}}},
{"data":{"values":[{"s":"lg |","x":-2.5,"y":1.15},{"s":"|","x":1.9,"y":1.15},{"s":"/km","x":-1.2,"y":-1.77}]},"mark":{"type":"text","align":"left","baseline":"alphabetic","font":"Liberation Serif","fontSize":58,"color":"#000"},"encoding":{"text":{"field":"s"}}},
{"data":{"values":[{"s":"Z","x":-0.18,"y":1.15},{"s":"X","x":-2.26,"y":-1.77}]},"mark":{"type":"text","align":"left","baseline":"alphabetic","font":"Liberation Serif","fontStyle":"italic","fontSize":58,"color":"#000"},"encoding":{"text":{"field":"s"}}},
{"data":{"values":[{"s":"xx","x":0.81,"y":1.12}]},"mark":{"type":"text","align":"left","baseline":"alphabetic","font":"Liberation Serif","fontStyle":"italic","fontSize":36,"color":"#000"},"encoding":{"text":{"field":"s"}}}
]},
{"width":124,"height":345,"data":{"values":[{"v":-7,"w":-6.9},{"v":-6.9,"w":-6.8},{"v":-6.8,"w":-6.7},{"v":-6.7,"w":-6.6},{"v":-6.6,"w":-6.5},{"v":-6.5,"w":-6.4},{"v":-6.4,"w":-6.3},{"v":-6.3,"w":-6.2},{"v":-6.2,"w":-6.1},{"v":-6.1,"w":-6},{"v":-6,"w":-5.9},{"v":-5.9,"w":-5.8},{"v":-5.8,"w":-5.7},{"v":-5.7,"w":-5.6},{"v":-5.6,"w":-5.5},{"v":-5.5,"w":-5.4},{"v":-5.4,"w":-5.3},{"v":-5.3,"w":-5.2},{"v":-5.2,"w":-5.1},{"v":-5.1,"w":-5},{"v":-5,"w":-4.9},{"v":-4.9,"w":-4.8},{"v":-4.8,"w":-4.7},{"v":-4.7,"w":-4.6},{"v":-4.6,"w":-4.5},{"v":-4.5,"w":-4.4},{"v":-4.4,"w":-4.3},{"v":-4.3,"w":-4.2},{"v":-4.2,"w":-4.1},{"v":-4.1,"w":-4},{"v":-4,"w":-3.9},{"v":-3.9,"w":-3.8},{"v":-3.8,"w":-3.7},{"v":-3.7,"w":-3.6},{"v":-3.6,"w":-3.5},{"v":-3.5,"w":-3.4},{"v":-3.4,"w":-3.3},{"v":-3.3,"w":-3.2},{"v":-3.2,"w":-3.1},{"v":-3.1,"w":-3},{"v":-3,"w":-2.88}]},"mark":{"type":"rect","stroke":"#000","strokeWidth":2.5},"encoding":{"x":{"datum":0,"type":"quantitative","scale":{"domain":[0,1],"range":[67,124]},"axis":null},"x2":{"datum":1},"y":{"field":"v","type":"quantitative","scale":{"domain":[-7,-2.88],"range":[919,36],"nice":false,"zero":false},"axis":{"orient":"right","title":null,"ticks":false,"labelPadding":17,"values":[-3,-3.4,-3.8,-4.2,-4.6,-5,-5.4,-5.8,-6.2,-6.6,-7],"labelExpr":"''+datum.value"}},"y2":{"field":"w"},"color":{"field":"v","type":"quantitative","legend":null,"scale":{"domain":[-7,-6.6,-6.2,-5.8,-5.4,-5,-4.6,-4.2,-3.8,-3.4,-3,-2.88],"range":["#ffffff","#f4f4f4","#e6e6e6","#dcdcdc","#c0c0c0","#989898","#808080","#606060","#404040","#2a2a2a","#111111","#0c0c0c"]}}}},
{"width":1330,"height":345,"encoding":{"x":{"field":"x","type":"quantitative","scale":{"domain":[-20,20],"range":[0,1320],"nice":false,"zero":false},"axis":{"title":null,"values":[-20,-15,-10,-5,0,5,10,15,20],"labelExpr":"''+datum.value"}},"y":{"field":"y","type":"quantitative","scale":{"domain":[-1,1],"nice":false,"zero":false},"axis":{"title":"lg period","titleX":-140,"values":[-1,-0.5,0,0.5,1],"labelExpr":"''+datum.value"}}},
"layer":[
{"data":{"values":[{"x":-20,"x2":20,"y":-1,"y2":1,"v":-6.2}]},"mark":{"type":"rect"},"encoding":{"x2":{"field":"x2"},"y2":{"field":"y2"},"color":{"field":"v","type":"quantitative","legend":null,"scale":{"domain":[-7,-6.6,-6.2,-5.8,-5.4,-5,-4.6,-4.2,-3.8,-3.4,-3,-2.88],"range":["#ffffff","#f4f4f4","#e6e6e6","#dcdcdc","#c0c0c0","#989898","#808080","#606060","#404040","#2a2a2a","#111111","#0c0c0c"]}}}},
{"data":{"values":[
{"g":"A","v":-6.7,"x":-18.6,"y":-1,"t":-1},{"g":"A","v":-6.7,"x":-18.2,"y":-1,"t":-0.9},{"g":"A","v":-6.7,"x":-17.8,"y":-1,"t":-1},
{"g":"C","v":-5.7,"x":-20,"y":-0.3,"t":1},{"g":"C","v":-5.7,"x":-19,"y":-0.48,"t":1},{"g":"C","v":-5.7,"x":-18,"y":-0.6,"t":1},{"g":"C","v":-5.7,"x":-17,"y":-0.7,"t":1},{"g":"C","v":-5.7,"x":-15.8,"y":-0.77,"t":1},{"g":"C","v":-5.7,"x":-14.5,"y":-0.7,"t":1},{"g":"C","v":-5.7,"x":-13.5,"y":-0.55,"t":1},{"g":"C","v":-5.7,"x":-12.4,"y":-0.38,"t":1},{"g":"C","v":-5.7,"x":-11.9,"y":-0.38,"t":1},{"g":"C","v":-5.7,"x":-11.5,"y":-0.7,"t":1},{"g":"C","v":-5.7,"x":-11.4,"y":-0.9,"t":1},{"g":"C","v":-5.7,"x":-11,"y":-1,"t":1},{"g":"C","v":-5.7,"x":20,"y":-1,"t":1},
{"g":"D","v":-5.45,"x":-20,"y":-0.05,"t":1},{"g":"D","v":-5.45,"x":-19,"y":-0.28,"t":1},{"g":"D","v":-5.45,"x":-18,"y":-0.45,"t":1},{"g":"D","v":-5.45,"x":-17,"y":-0.58,"t":1},{"g":"D","v":-5.45,"x":-15.8,"y":-0.68,"t":1},{"g":"D","v":-5.45,"x":-14.5,"y":-0.58,"t":1},{"g":"D","v":-5.45,"x":-13.5,"y":-0.35,"t":1},{"g":"D","v":-5.45,"x":-12.8,"y":-0.12,"t":1},{"g":"D","v":-5.45,"x":-12.3,"y":-0.2,"t":1},{"g":"D","v":-5.45,"x":-11.5,"y":-0.5,"t":1},{"g":"D","v":-5.45,"x":-10.8,"y":-0.75,"t":1},{"g":"D","v":-5.45,"x":-10,"y":-1,"t":1},{"g":"D","v":-5.45,"x":20,"y":-1,"t":1},
{"g":"E","v":-5.2,"x":-20,"y":0.3,"t":1},{"g":"E","v":-5.2,"x":-19,"y":0.05,"t":1},{"g":"E","v":-5.2,"x":-18,"y":-0.2,"t":1},{"g":"E","v":-5.2,"x":-17,"y":-0.42,"t":1},{"g":"E","v":-5.2,"x":-15.8,"y":-0.55,"t":1},{"g":"E","v":-5.2,"x":-14.5,"y":-0.4,"t":1},{"g":"E","v":-5.2,"x":-13.5,"y":-0.1,"t":1},{"g":"E","v":-5.2,"x":-12.9,"y":-0.03,"t":1},{"g":"E","v":-5.2,"x":-12.2,"y":-0.1,"t":1},{"g":"E","v":-5.2,"x":-11,"y":-0.42,"t":1},{"g":"E","v":-5.2,"x":-10,"y":-0.65,"t":1},{"g":"E","v":-5.2,"x":-9,"y":-0.85,"t":1},{"g":"E","v":-5.2,"x":-8,"y":-1,"t":1},{"g":"E","v":-5.2,"x":20,"y":-1,"t":1},
{"g":"F","v":-5.1,"x":-20,"y":0.85,"t":1},{"g":"F","v":-5.1,"x":-19.3,"y":0.55,"t":1},{"g":"F","v":-5.1,"x":-18.5,"y":0.25,"t":1},{"g":"F","v":-5.1,"x":-17.5,"y":0,"t":1},{"g":"F","v":-5.1,"x":-16.8,"y":-0.2,"t":1},{"g":"F","v":-5.1,"x":-15.8,"y":-0.3,"t":1},{"g":"F","v":-5.1,"x":-14.8,"y":-0.2,"t":1},{"g":"F","v":-5.1,"x":-14,"y":0,"t":1},{"g":"F","v":-5.1,"x":-13.5,"y":0.2,"t":1},{"g":"F","v":-5.1,"x":-12.9,"y":0.05,"t":1},{"g":"F","v":-5.1,"x":-12.2,"y":-0.05,"t":1},{"g":"F","v":-5.1,"x":-11,"y":-0.35,"t":1},{"g":"F","v":-5.1,"x":-10,"y":-0.6,"t":1},{"g":"F","v":-5.1,"x":-9,"y":-0.78,"t":1},{"g":"F","v":-5.1,"x":-8,"y":-0.92,"t":1},{"g":"F","v":-5.1,"x":-7,"y":-1,"t":1},{"g":"F","v":-5.1,"x":20,"y":-1,"t":1},
{"g":"G","v":-4.75,"x":-19.3,"y":1,"t":1},{"g":"G","v":-4.75,"x":-18.7,"y":0.7,"t":1},{"g":"G","v":-4.75,"x":-18,"y":0.35,"t":1},{"g":"G","v":-4.75,"x":-17.2,"y":0.1,"t":1},{"g":"G","v":-4.75,"x":-16.5,"y":-0.05,"t":1},{"g":"G","v":-4.75,"x":-15.8,"y":-0.15,"t":1},{"g":"G","v":-4.75,"x":-15,"y":-0.05,"t":1},{"g":"G","v":-4.75,"x":-14.3,"y":0.15,"t":1},{"g":"G","v":-4.75,"x":-13.7,"y":0.5,"t":1},{"g":"G","v":-4.75,"x":-13.3,"y":1,"t":1},
{"g":"G2","v":-4.75,"x":-12.1,"y":0.05,"t":0.4},{"g":"G2","v":-4.75,"x":-11.3,"y":-0.25,"t":1},{"g":"G2","v":-4.75,"x":-10,"y":-0.55,"t":1},{"g":"G2","v":-4.75,"x":-9,"y":-0.72,"t":1},{"g":"G2","v":-4.75,"x":-8,"y":-0.86,"t":1},{"g":"G2","v":-4.75,"x":-7,"y":-0.95,"t":1},{"g":"G2","v":-4.75,"x":-6,"y":-1,"t":1},{"g":"G2","v":-4.75,"x":20,"y":-1,"t":1},
{"g":"H","v":-4.5,"x":-17.8,"y":1,"t":1},{"g":"H","v":-4.5,"x":-17.3,"y":0.6,"t":1},{"g":"H","v":-4.5,"x":-16.8,"y":0.25,"t":1},{"g":"H","v":-4.5,"x":-16,"y":0.05,"t":1},{"g":"H","v":-4.5,"x":-15.3,"y":0.1,"t":1},{"g":"H","v":-4.5,"x":-14.8,"y":0.5,"t":1},{"g":"H","v":-4.5,"x":-14.3,"y":1,"t":1},
{"g":"H2","v":-4.4,"x":-10.7,"y":-0.3,"t":1},{"g":"H2","v":-4.4,"x":-9,"y":-0.62,"t":1},{"g":"H2","v":-4.4,"x":-8,"y":-0.78,"t":1},{"g":"H2","v":-4.4,"x":-7,"y":-0.88,"t":1},{"g":"H2","v":-4.4,"x":-6,"y":-0.96,"t":1},{"g":"H2","v":-4.4,"x":-5,"y":-1,"t":1},{"g":"H2","v":-4.4,"x":20,"y":-1,"t":1},
{"g":"I","v":-4.15,"x":-9.6,"y":-0.2,"t":0.9},{"g":"I","v":-4.15,"x":-8.5,"y":-0.5,"t":1},{"g":"I","v":-4.15,"x":-7,"y":-0.75,"t":1},{"g":"I","v":-4.15,"x":-6,"y":-0.85,"t":1},{"g":"I","v":-4.15,"x":-5,"y":-0.93,"t":1},{"g":"I","v":-4.15,"x":-4,"y":-1,"t":1},{"g":"I","v":-4.15,"x":20,"y":-1,"t":1},
{"g":"J","v":-3.85,"x":-8,"y":-0.1,"t":0.3},{"g":"J","v":-3.85,"x":-7,"y":-0.55,"t":0.8},{"g":"J","v":-3.85,"x":-6.4,"y":-0.65,"t":1},{"g":"J","v":-3.85,"x":-5,"y":-0.82,"t":1},{"g":"J","v":-3.85,"x":-4,"y":-0.9,"t":1},{"g":"J","v":-3.85,"x":-3,"y":-0.95,"t":1},{"g":"J","v":-3.85,"x":-1.3,"y":-0.98,"t":1},{"g":"J","v":-3.85,"x":20,"y":-1,"t":1},
{"g":"K","v":-3.6,"x":-5.3,"y":-0.9,"t":1},{"g":"K","v":-3.6,"x":-3,"y":-0.95,"t":1},{"g":"K","v":-3.6,"x":0,"y":-1,"t":1},{"g":"K","v":-3.6,"x":19,"y":-1,"t":1},
{"g":"L","v":-3.35,"x":-4.9,"y":-0.8,"t":1},{"g":"L","v":-3.35,"x":-3,"y":-0.95,"t":1},{"g":"L","v":-3.35,"x":-1.3,"y":-0.95,"t":1},{"g":"L","v":-3.35,"x":1.3,"y":-0.85,"t":1},{"g":"L","v":-3.35,"x":2,"y":-0.75,"t":1},{"g":"L","v":-3.35,"x":3,"y":-0.85,"t":1},{"g":"L","v":-3.35,"x":5,"y":-0.92,"t":1},{"g":"L","v":-3.35,"x":8,"y":-0.95,"t":1},{"g":"L","v":-3.35,"x":11,"y":-1,"t":1},{"g":"L","v":-3.35,"x":14,"y":-1,"t":1},{"g":"L","v":-3.35,"x":17,"y":-0.95,"t":1},{"g":"L","v":-3.35,"x":18.5,"y":-0.8,"t":1},{"g":"L","v":-3.35,"x":18.8,"y":-0.7,"t":1},
{"g":"M","v":-3.2,"x":-4.8,"y":-0.2,"t":0.4},{"g":"M","v":-3.2,"x":-4.3,"y":-0.5,"t":0.75},{"g":"M","v":-3.2,"x":-3.5,"y":-0.68,"t":0.85},{"g":"M","v":-3.2,"x":-2.7,"y":-0.55,"t":0.75},{"g":"M","v":-3.2,"x":-2.3,"y":-0.2,"t":0.3},
{"g":"M2","v":-3.2,"x":2.4,"y":-0.2,"t":0.2},{"g":"M2","v":-3.2,"x":3,"y":-0.55,"t":0.55},{"g":"M2","v":-3.2,"x":3.7,"y":-0.65,"t":0.8},{"g":"M2","v":-3.2,"x":4.5,"y":-0.65,"t":0.7},{"g":"M2","v":-3.2,"x":5,"y":-0.7,"t":0.55},{"g":"M2","v":-3.2,"x":5.3,"y":-0.7,"t":0.67},{"g":"M2","v":-3.2,"x":7,"y":-0.8,"t":0.67},{"g":"M2","v":-3.2,"x":8,"y":-0.85,"t":0.65},{"g":"M2","v":-3.2,"x":9,"y":-0.8,"t":0.4},{"g":"M2","v":-3.2,"x":9.8,"y":-0.5,"t":0},{"g":"M2","v":-3.2,"x":10.2,"y":-0.2,"t":-0.05},
{"g":"M3","v":-3.2,"x":13.8,"y":-0.3,"t":0.3},{"g":"M3","v":-3.2,"x":14.5,"y":-0.7,"t":0.8},{"g":"M3","v":-3.2,"x":15.6,"y":-0.82,"t":0.93},{"g":"M3","v":-3.2,"x":16.5,"y":-0.75,"t":0.8},{"g":"M3","v":-3.2,"x":17.5,"y":-0.45,"t":0.4},{"g":"M3","v":-3.2,"x":18,"y":-0.1,"t":0.1},
{"g":"N","v":-3.12,"x":-4.4,"y":-0.05,"t":0.1},{"g":"N","v":-3.12,"x":-4,"y":-0.35,"t":0.3},{"g":"N","v":-3.12,"x":-3.5,"y":-0.42,"t":0.39},{"g":"N","v":-3.12,"x":-3,"y":-0.4,"t":0.3},{"g":"N","v":-3.12,"x":-2.6,"y":-0.1,"t":0.1},
{"g":"N2","v":-3.05,"x":5.2,"y":-0.55,"t":0.33},{"g":"N2","v":-3.05,"x":7,"y":-0.68,"t":0.33},{"g":"N2","v":-3.05,"x":8,"y":-0.72,"t":0.25},{"g":"N2","v":-3.05,"x":9,"y":-0.6,"t":0},{"g":"N2","v":-3.05,"x":9.7,"y":-0.2,"t":-0.1},
{"g":"N3","v":-3.05,"x":14.7,"y":-0.3,"t":-0.1},{"g":"N3","v":-3.05,"x":15.2,"y":-0.6,"t":0.2},{"g":"N3","v":-3.05,"x":15.6,"y":-0.68,"t":0.4},{"g":"N3","v":-3.05,"x":16.1,"y":-0.6,"t":0.2},{"g":"N3","v":-3.05,"x":16.6,"y":-0.3,"t":-0.1}
]},"mark":{"type":"area","clip":true,"interpolate":"monotone"},"encoding":{"y2":{"field":"t"},"detail":{"field":"g"},"color":{"field":"v","type":"quantitative","legend":null,"scale":{"domain":[-7,-6.6,-6.2,-5.8,-5.4,-5,-4.6,-4.2,-3.8,-3.4,-3,-2.88],"range":["#ffffff","#f4f4f4","#e6e6e6","#dcdcdc","#c0c0c0","#989898","#808080","#606060","#404040","#2a2a2a","#111111","#0c0c0c"]}}}},
{"data":{"values":[
{"g":"a1","v":-3.6,"y":-1,"a":-1.5,"b":1.5},{"g":"a1","v":-3.6,"y":0,"a":-1.3,"b":1.3},{"g":"a1","v":-3.6,"y":1,"a":-1.5,"b":1.5},
{"g":"a2","v":-3.95,"y":-1,"a":-1.1,"b":1.1},{"g":"a2","v":-3.95,"y":0,"a":-0.95,"b":0.95},{"g":"a2","v":-3.95,"y":1,"a":-1.05,"b":1.05},
{"g":"a3","v":-4.3,"y":-1,"a":-0.8,"b":0.8},{"g":"a3","v":-4.3,"y":0,"a":-0.6,"b":0.6},{"g":"a3","v":-4.3,"y":1,"a":-0.75,"b":0.75},
{"g":"a4","v":-4.7,"y":0.2,"a":-0.05,"b":0.05},{"g":"a4","v":-4.7,"y":0.6,"a":-0.25,"b":0.3},{"g":"a4","v":-4.7,"y":1,"a":-0.4,"b":0.4},
{"g":"a5","v":-4.7,"y":-1,"a":-0.4,"b":0.4},{"g":"a5","v":-4.7,"y":-0.7,"a":-0.25,"b":0.3},{"g":"a5","v":-4.7,"y":-0.4,"a":-0.05,"b":0.05},
{"g":"c1","v":-3.6,"y":-1,"a":10.4,"b":13.3},{"g":"c1","v":-3.6,"y":0,"a":10.5,"b":13},{"g":"c1","v":-3.6,"y":1,"a":10.5,"b":13.3},
{"g":"c2","v":-3.95,"y":-1,"a":11,"b":12.9},{"g":"c2","v":-3.95,"y":0,"a":11.1,"b":12.7},{"g":"c2","v":-3.95,"y":1,"a":11,"b":12.9},
{"g":"c3","v":-4.3,"y":-1,"a":11.3,"b":12.5},{"g":"c3","v":-4.3,"y":-0.7,"a":11.4,"b":12.4},{"g":"c3","v":-4.3,"y":-0.3,"a":11.6,"b":12.2},{"g":"c3","v":-4.3,"y":0.2,"a":11.5,"b":12.35},{"g":"c3","v":-4.3,"y":1,"a":11.35,"b":12.5},
{"g":"c4","v":-4.6,"y":0.2,"a":11.95,"b":11.95},{"g":"c4","v":-4.6,"y":0.5,"a":11.8,"b":12.1},{"g":"c4","v":-4.6,"y":1,"a":11.7,"b":12.2},
{"g":"c5","v":-4.6,"y":-1,"a":11.6,"b":12.2},{"g":"c5","v":-4.6,"y":-0.8,"a":11.7,"b":12.1},{"g":"c5","v":-4.6,"y":-0.6,"a":11.95,"b":11.95}
]},"mark":{"type":"area","orient":"horizontal","clip":true,"interpolate":"monotone"},"encoding":{"x":{"field":"a","type":"quantitative","axis":{"title":null,"values":[-20,-15,-10,-5,0,5,10,15,20],"labelExpr":"''+datum.value"}},"x2":{"field":"b"},"detail":{"field":"g"},"color":{"field":"v","type":"quantitative","legend":null,"scale":{"domain":[-7,-6.6,-6.2,-5.8,-5.4,-5,-4.6,-4.2,-3.8,-3.4,-3,-2.88],"range":["#ffffff","#f4f4f4","#e6e6e6","#dcdcdc","#c0c0c0","#989898","#808080","#606060","#404040","#2a2a2a","#111111","#0c0c0c"]}}}},
{"data":{"values":[{"x":-20,"x2":20,"y":-1,"y2":1}]},"mark":{"type":"rect","filled":false,"stroke":"#000","strokeWidth":4},"encoding":{"x2":{"field":"x2"},"y2":{"field":"y2"}}},
{"data":{"values":[{"s":"lg |","x":-2.64,"y":1.157},{"s":"|","x":1.8,"y":1.157},{"s":"/km","x":-1.1,"y":-1.75}]},"mark":{"type":"text","align":"left","baseline":"alphabetic","font":"Liberation Serif","fontSize":58,"color":"#000"},"encoding":{"text":{"field":"s"}}},
{"data":{"values":[{"s":"Z","x":-0.3,"y":1.157},{"s":"X","x":-2.18,"y":-1.75}]},"mark":{"type":"text","align":"left","baseline":"alphabetic","font":"Liberation Serif","fontStyle":"italic","fontSize":58,"color":"#000"},"encoding":{"text":{"field":"s"}}},
{"data":{"values":[{"s":"yy","x":0.58,"y":1.13}]},"mark":{"type":"text","align":"left","baseline":"alphabetic","font":"Liberation Serif","fontStyle":"italic","fontSize":36,"color":"#000"},"encoding":{"text":{"field":"s"}}}
]}
]}
